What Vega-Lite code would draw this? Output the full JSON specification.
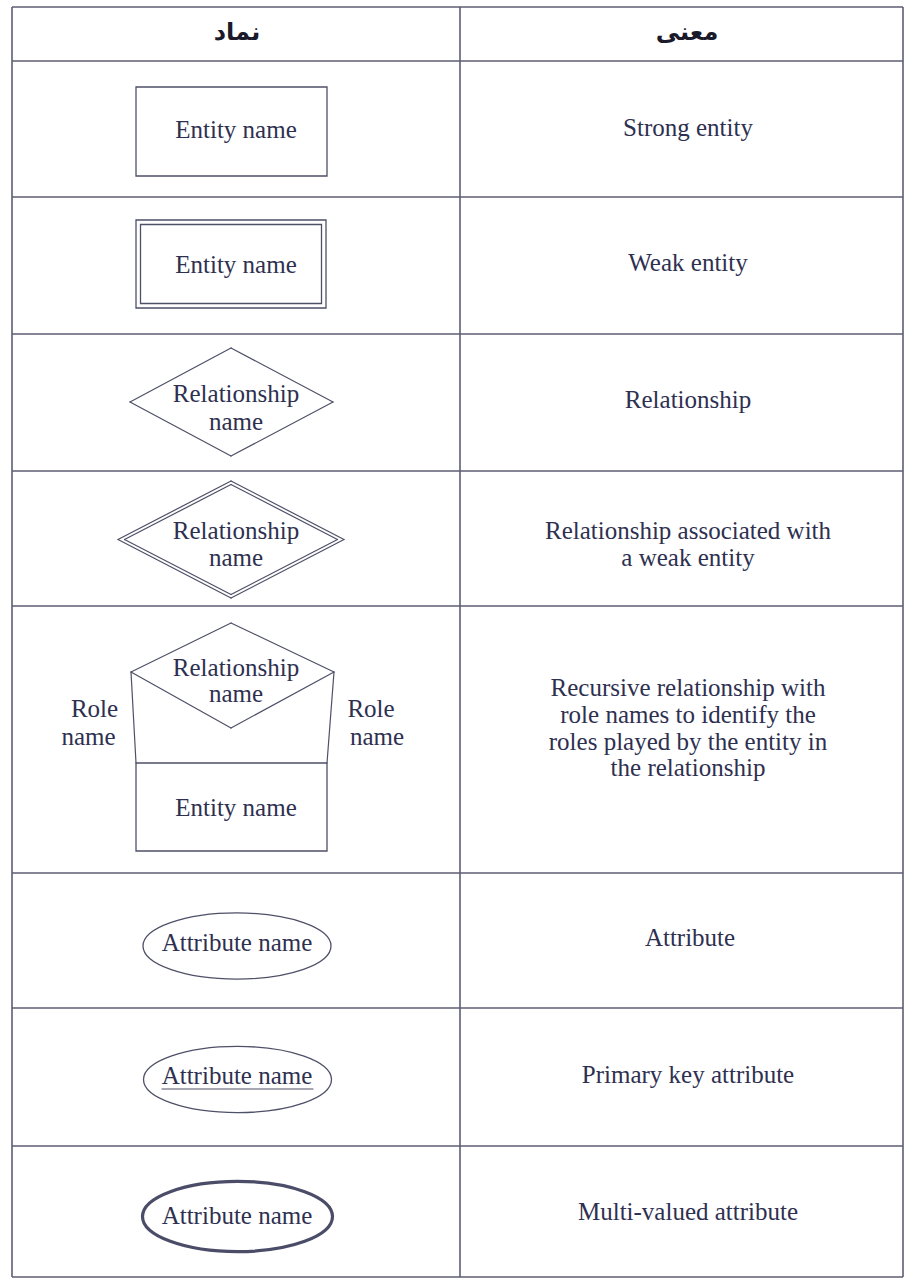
{
  "$schema": "https://vega.github.io/schema/vega-lite/v6.json",
  "width": 905,
  "height": 1279,
  "padding": 0,
  "autosize": {"type": "fit", "contains": "padding"},
  "background": "white",
  "config": {"view": {"stroke": null}},
  "datasets": {
    "table": [
      {"x": 12, "y": 7, "x2": 903, "y2": 7},
      {"x": 12, "y": 61, "x2": 903, "y2": 61},
      {"x": 12, "y": 197, "x2": 903, "y2": 197},
      {"x": 12, "y": 334, "x2": 903, "y2": 334},
      {"x": 12, "y": 471, "x2": 903, "y2": 471},
      {"x": 12, "y": 606, "x2": 903, "y2": 606},
      {"x": 12, "y": 873, "x2": 903, "y2": 873},
      {"x": 12, "y": 1008, "x2": 903, "y2": 1008},
      {"x": 12, "y": 1146, "x2": 903, "y2": 1146},
      {"x": 12, "y": 1277, "x2": 903, "y2": 1277},
      {"x": 12, "y": 7, "x2": 12, "y2": 1277},
      {"x": 460, "y": 7, "x2": 460, "y2": 1277},
      {"x": 903, "y": 7, "x2": 903, "y2": 1277}
    ],
    "edges": [
      {"x": 130, "y": 402, "x2": 231, "y2": 348},
      {"x": 231, "y": 348, "x2": 333, "y2": 402},
      {"x": 333, "y": 402, "x2": 231, "y2": 456},
      {"x": 231, "y": 456, "x2": 130, "y2": 402},
      {"x": 118, "y": 539.5, "x2": 231, "y2": 481},
      {"x": 231, "y": 481, "x2": 344, "y2": 539.5},
      {"x": 344, "y": 539.5, "x2": 231, "y2": 598},
      {"x": 231, "y": 598, "x2": 118, "y2": 539.5},
      {"x": 124.5, "y": 539.5, "x2": 231, "y2": 484.5},
      {"x": 231, "y": 484.5, "x2": 337.5, "y2": 539.5},
      {"x": 337.5, "y": 539.5, "x2": 231, "y2": 594.5},
      {"x": 231, "y": 594.5, "x2": 124.5, "y2": 539.5},
      {"x": 131, "y": 672, "x2": 231, "y2": 623},
      {"x": 231, "y": 623, "x2": 334, "y2": 672},
      {"x": 334, "y": 672, "x2": 231, "y2": 728},
      {"x": 231, "y": 728, "x2": 131, "y2": 672},
      {"x": 131, "y": 672, "x2": 136, "y2": 763},
      {"x": 334, "y": 672, "x2": 327, "y2": 763},
      {"x": 162, "y": 1089, "x2": 313, "y2": 1089}
    ],
    "boxes": [
      {"x": 136, "y": 87, "x2": 327, "y2": 176},
      {"x": 136, "y": 220, "x2": 326, "y2": 308},
      {"x": 140.5, "y": 224.5, "x2": 321.5, "y2": 303.5},
      {"x": 136, "y": 763, "x2": 327, "y2": 851}
    ],
    "ellipses": [
      {"x": 237, "y": 946, "kind": "single"},
      {"x": 237.5, "y": 1079.5, "kind": "single"},
      {"x": 237.5, "y": 1216.5, "kind": "multi"}
    ],
    "labels": [
      {"x": 236, "y": 130, "t": "Entity name"},
      {"x": 236, "y": 265, "t": "Entity name"},
      {"x": 236, "y": 394, "t": "Relationship"},
      {"x": 236, "y": 422, "t": "name"},
      {"x": 236, "y": 531, "t": "Relationship"},
      {"x": 236, "y": 558, "t": "name"},
      {"x": 236, "y": 668, "t": "Relationship"},
      {"x": 236, "y": 694, "t": "name"},
      {"x": 94.5, "y": 709, "t": "Role"},
      {"x": 88.5, "y": 737, "t": "name"},
      {"x": 371, "y": 709, "t": "Role"},
      {"x": 377, "y": 737, "t": "name"},
      {"x": 236, "y": 808, "t": "Entity name"},
      {"x": 237, "y": 943, "t": "Attribute name"},
      {"x": 237, "y": 1076, "t": "Attribute name"},
      {"x": 237, "y": 1216, "t": "Attribute name"},
      {"x": 688, "y": 128, "t": "Strong entity"},
      {"x": 688, "y": 263, "t": "Weak entity"},
      {"x": 688, "y": 400, "t": "Relationship"},
      {"x": 688, "y": 531, "t": "Relationship associated with"},
      {"x": 688, "y": 558, "t": "a weak entity"},
      {"x": 688, "y": 688, "t": "Recursive relationship with"},
      {"x": 688, "y": 715, "t": "role names to identify the"},
      {"x": 688, "y": 742, "t": "roles played by the entity in"},
      {"x": 688, "y": 768, "t": "the relationship"},
      {"x": 690, "y": 938, "t": "Attribute"},
      {"x": 688, "y": 1075, "t": "Primary key attribute"},
      {"x": 688, "y": 1212, "t": "Multi-valued attribute"}
    ],
    "header": [
      {"x": 237, "y": 33, "t": "نماد"},
      {"x": 687, "y": 33, "t": "معنی"}
    ]
  },
  "layer": [
    {
      "data": {"name": "boxes"},
      "mark": {"type": "rect", "fill": "white", "stroke": "#4e5068", "strokeWidth": 1.3},
      "encoding": {
        "x": {"field": "x", "type": "quantitative", "scale": {"domain": [0, 905], "nice": false, "zero": false}, "axis": null},
        "x2": {"field": "x2"},
        "y": {"field": "y", "type": "quantitative", "scale": {"domain": [0, 1279], "nice": false, "zero": false, "reverse": true}, "axis": null},
        "y2": {"field": "y2"}
      }
    },
    {
      "data": {"name": "table"},
      "mark": {"type": "rule", "stroke": "#5c5d72", "strokeWidth": 1.6},
      "encoding": {
        "x": {"field": "x", "type": "quantitative", "axis": null},
        "x2": {"field": "x2"},
        "y": {"field": "y", "type": "quantitative", "axis": null},
        "y2": {"field": "y2"}
      }
    },
    {
      "data": {"name": "edges"},
      "mark": {"type": "rule", "stroke": "#4e5068", "strokeWidth": 1.2, "strokeCap": "round"},
      "encoding": {
        "x": {"field": "x", "type": "quantitative", "axis": null},
        "x2": {"field": "x2"},
        "y": {"field": "y", "type": "quantitative", "axis": null},
        "y2": {"field": "y2"}
      }
    },
    {
      "data": {"name": "ellipses"},
      "transform": [{"filter": "datum.kind === 'single'"}],
      "mark": {"type": "point", "shape": "M-1,0A1,0.352,0,0,1,1,0A1,0.352,0,0,1,-1,0Z", "size": 35344, "filled": false, "stroke": "#4e5068", "strokeWidth": 1.3, "opacity": 1},
      "encoding": {
        "x": {"field": "x", "type": "quantitative", "axis": null},
        "y": {"field": "y", "type": "quantitative", "axis": null}
      }
    },
    {
      "data": {"name": "ellipses"},
      "transform": [{"filter": "datum.kind === 'multi'"}],
      "mark": {"type": "point", "shape": "M-1,0A1,0.37,0,0,1,1,0A1,0.37,0,0,1,-1,0Z", "size": 36100, "filled": false, "stroke": "#4a4c68", "strokeWidth": 3.2, "opacity": 1},
      "encoding": {
        "x": {"field": "x", "type": "quantitative", "axis": null},
        "y": {"field": "y", "type": "quantitative", "axis": null}
      }
    },
    {
      "data": {"name": "labels"},
      "mark": {"type": "text", "font": "Liberation Serif", "fontSize": 25, "color": "#2e3050", "align": "center", "baseline": "middle"},
      "encoding": {
        "x": {"field": "x", "type": "quantitative", "axis": null},
        "y": {"field": "y", "type": "quantitative", "axis": null},
        "text": {"field": "t"}
      }
    },
    {
      "data": {"name": "header"},
      "mark": {"type": "text", "font": "DejaVu Sans", "fontSize": 24, "fontWeight": "bold", "color": "#1a1a2a", "align": "center", "baseline": "middle"},
      "encoding": {
        "x": {"field": "x", "type": "quantitative", "axis": null},
        "y": {"field": "y", "type": "quantitative", "axis": null},
        "text": {"field": "t"}
      }
    }
  ]
}
